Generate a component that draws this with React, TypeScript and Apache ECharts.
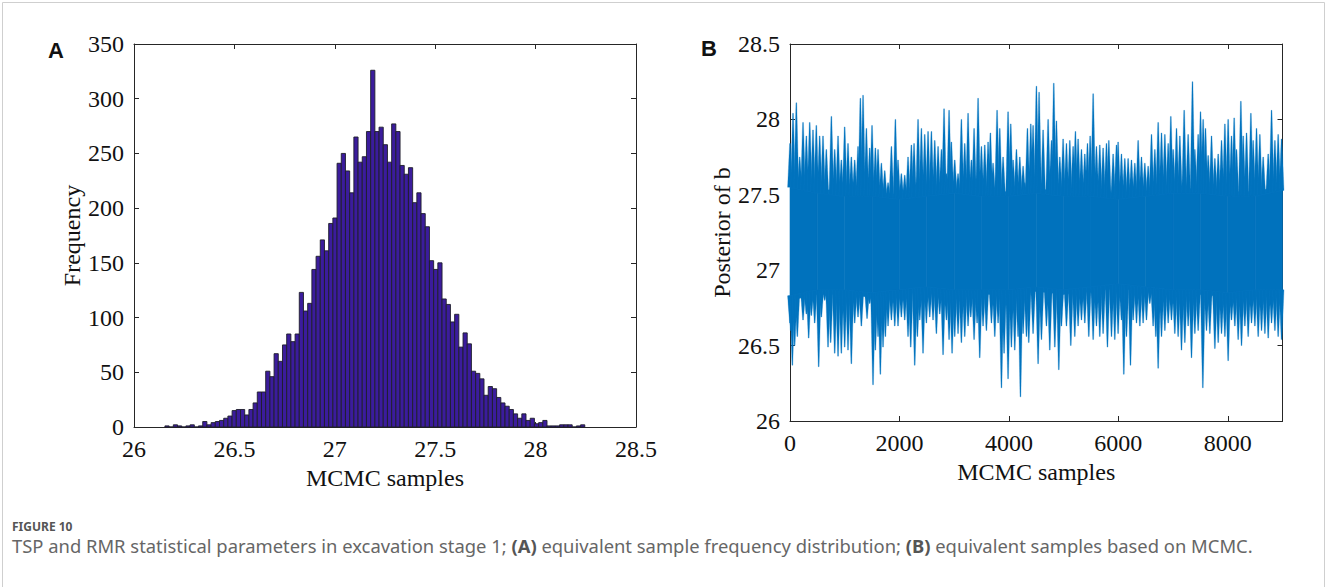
import React, { useEffect, useRef } from "react";
import * as echarts from "echarts";

// ---------- Panel A: histogram of MCMC samples ----------
const histStart = 26.154;
const histBinWidth = 0.02091;
const histCounts = [
  1, 0, 2, 1, 0, 1, 2, 0, 1, 5,
  2, 4, 5, 6, 8, 10, 15, 16, 16, 11,
  16, 22, 32, 32, 51, 46, 67, 60, 75, 85,
  78, 85, 123, 106, 113, 144, 156, 171, 161, 186,
  191, 241, 250, 234, 214, 265, 242, 247, 270, 326,
  270, 274, 258, 242, 277, 270, 239, 231, 237, 205,
  214, 195, 183, 152, 144, 150, 117, 112, 96, 103,
  73, 86, 76, 51, 49, 44, 29, 37, 35, 27,
  22, 19, 16, 12, 8, 12, 6, 8, 3, 4,
  6, 1, 1, 1, 2, 2, 2, 0, 1, 2,
];
const histXTicks = { min: 26, max: 28.5, interval: 0.5 };
const histYTicks = { min: 0, max: 350, interval: 50 };

// ---------- Panel B: trace of MCMC samples ----------
// dense core of the trace (where the line fills every pixel)
const coreIdx = [0, 500, 1000, 1500, 2000, 2500, 3000, 3500, 4000, 4500, 5000, 5500, 6000, 6500, 7000, 7500, 8000, 8500, 9000];
const coreHi = [27.58, 27.54, 27.52, 27.52, 27.5, 27.52, 27.54, 27.52, 27.52, 27.54, 27.52, 27.52, 27.5, 27.52, 27.54, 27.54, 27.52, 27.52, 27.56];
const coreLo = [26.8, 26.84, 26.84, 26.82, 26.84, 26.86, 26.84, 26.84, 26.84, 26.86, 26.84, 26.86, 26.88, 26.86, 26.84, 26.84, 26.82, 26.84, 26.84];

// upper excursions of the trace (sample index, value)
const upperIdx = [0, 55, 116, 177, 238, 299, 360, 420, 481, 542, 603, 664, 756, 817, 878, 938, 999, 1060, 1121, 1182, 1243, 1286, 1335, 1396, 1456, 1499, 1560, 1609, 1670, 1731, 1792, 1853, 1926, 1974, 2035, 2096, 2157, 2218, 2267, 2340, 2401, 2462, 2523, 2584, 2645, 2706, 2767, 2815, 2858, 2907, 2949, 3010, 3071, 3132, 3193, 3254, 3315, 3364, 3437, 3498, 3559, 3620, 3662, 3711, 3784, 3833, 3894, 3985, 4034, 4077, 4138, 4199, 4260, 4290, 4339, 4400, 4442, 4503, 4552, 4625, 4717, 4778, 4820, 4869, 4930, 4991, 5052, 5113, 5174, 5216, 5265, 5326, 5387, 5436, 5485, 5540, 5600, 5661, 5722, 5783, 5826, 5905, 5966, 5996, 6057, 6118, 6179, 6240, 6301, 6362, 6423, 6484, 6545, 6606, 6667, 6728, 6789, 6850, 6911, 6959, 7002, 7063, 7124, 7203, 7276, 7355, 7398, 7459, 7502, 7550, 7593, 7642, 7703, 7764, 7825, 7886, 7947, 8007, 8068, 8117, 8160, 8239, 8282, 8343, 8422, 8464, 8525, 8586, 8647, 8739, 8800, 8861, 8921, 8983];
const upperVal = [27.84, 28.04, 28.11, 27.75, 27.98, 27.89, 27.98, 27.93, 27.96, 27.89, 27.89, 27.8, 28.02, 27.8, 27.89, 27.73, 27.95, 27.84, 27.75, 27.73, 27.82, 28.14, 28.16, 27.94, 27.81, 27.96, 27.81, 27.8, 27.71, 27.66, 27.58, 27.82, 28.0, 27.73, 27.64, 27.63, 27.75, 27.83, 27.84, 28.0, 27.94, 27.9, 27.92, 27.92, 27.86, 27.82, 27.8, 28.07, 27.64, 28.06, 27.85, 27.73, 27.64, 28.0, 27.84, 28.04, 27.73, 27.94, 28.14, 27.82, 27.83, 27.85, 27.91, 27.71, 28.06, 27.94, 27.75, 28.05, 27.97, 27.73, 27.8, 27.75, 27.69, 27.58, 27.94, 27.97, 27.96, 28.22, 28.18, 27.93, 28.0, 27.86, 28.24, 27.99, 27.75, 27.87, 27.84, 27.86, 27.82, 27.92, 27.87, 27.8, 27.77, 27.84, 27.89, 28.17, 27.82, 27.83, 27.81, 27.84, 27.86, 27.77, 27.83, 27.85, 27.77, 27.74, 27.74, 27.73, 27.71, 27.86, 27.75, 27.71, 27.69, 27.9, 27.8, 27.98, 27.91, 27.9, 27.84, 28.02, 27.8, 27.94, 27.89, 28.06, 27.9, 28.25, 27.8, 27.9, 28.05, 28.0, 27.94, 27.76, 27.89, 27.74, 27.77, 27.86, 27.97, 28.0, 27.89, 28.01, 27.8, 28.12, 27.89, 27.91, 28.04, 27.86, 27.94, 27.9, 27.75, 27.77, 28.06, 27.86, 27.9, 27.87];

// lower excursions of the trace (sample index, value)
const lowerIdx = [0, 12, 43, 85, 134, 195, 238, 299, 341, 390, 451, 524, 573, 634, 695, 743, 817, 878, 938, 999, 1060, 1121, 1182, 1243, 1304, 1353, 1408, 1456, 1517, 1560, 1609, 1651, 1700, 1743, 1792, 1853, 1914, 1974, 2035, 2096, 2157, 2206, 2279, 2328, 2371, 2431, 2492, 2553, 2614, 2675, 2736, 2797, 2858, 2907, 2962, 3010, 3071, 3132, 3193, 3254, 3303, 3364, 3419, 3467, 3528, 3589, 3681, 3742, 3803, 3864, 3912, 3985, 4046, 4107, 4168, 4211, 4260, 4321, 4363, 4442, 4534, 4595, 4686, 4747, 4839, 4912, 4960, 5052, 5131, 5204, 5265, 5326, 5387, 5460, 5540, 5600, 5661, 5722, 5801, 5875, 5935, 5996, 6057, 6100, 6149, 6222, 6271, 6332, 6393, 6453, 6514, 6575, 6636, 6685, 6728, 6789, 6850, 6911, 6971, 7032, 7093, 7154, 7215, 7276, 7337, 7398, 7459, 7544, 7611, 7672, 7764, 7825, 7886, 7947, 8007, 8068, 8129, 8190, 8251, 8312, 8373, 8434, 8495, 8556, 8617, 8678, 8739, 8800, 8861, 8921, 8983];
const lowerVal = [26.65, 26.6, 26.37, 26.5, 26.56, 26.85, 26.67, 26.71, 26.55, 26.7, 26.65, 26.36, 26.69, 26.8, 26.49, 26.52, 26.45, 26.43, 26.45, 26.49, 26.47, 26.38, 26.65, 26.69, 26.63, 26.85, 26.68, 26.78, 26.24, 26.47, 26.56, 26.31, 26.49, 26.56, 26.63, 26.67, 26.63, 26.63, 26.69, 26.67, 26.56, 26.49, 26.37, 26.56, 26.67, 26.45, 26.65, 26.69, 26.67, 26.58, 26.71, 26.44, 26.67, 26.54, 26.45, 26.56, 26.58, 26.52, 26.56, 26.63, 26.69, 26.54, 26.65, 26.42, 26.63, 26.6, 26.65, 26.56, 26.65, 26.22, 26.45, 26.28, 26.49, 26.47, 26.56, 26.16, 26.58, 26.56, 26.52, 26.58, 26.38, 26.54, 26.63, 26.47, 26.49, 26.34, 26.63, 26.63, 26.5, 26.56, 26.63, 26.67, 26.65, 26.56, 26.54, 26.63, 26.56, 26.58, 26.49, 26.56, 26.54, 26.58, 26.67, 26.31, 26.56, 26.37, 26.67, 26.65, 26.63, 26.65, 26.67, 26.78, 26.63, 26.56, 26.35, 26.56, 26.6, 26.65, 26.67, 26.58, 26.56, 26.47, 26.52, 26.63, 26.42, 26.58, 26.6, 26.22, 26.6, 26.58, 26.48, 26.52, 26.58, 26.56, 26.4, 26.67, 26.63, 26.54, 26.5, 26.63, 26.56, 26.65, 26.63, 26.56, 26.6, 26.58, 26.55, 26.65, 26.6, 26.56, 26.54];

const traceXTicks = { min: 0, max: 9000, interval: 2000 };
const traceYTicks = { min: 26, max: 28.5, interval: 0.5 };

const captionTitle = "FIGURE 10";
const captionParts = [
  "TSP and RMR statistical parameters in excavation stage 1; ",
  "(A)",
  " equivalent sample frequency distribution; ",
  "(B)",
  " equivalent samples based on MCMC.",
];

const AXIS_COLOR = "#262626";
const SERIF = "'Liberation Serif', 'Times New Roman', serif";
const SANS = "'Noto Sans', sans-serif";
const TRACE_BLUE = "#0072BD";

function axisBase(extra: any) {
  return {
    axisLine: { show: true, onZero: false, lineStyle: { color: AXIS_COLOR, width: 1 } },
    axisTick: { show: true, inside: true, length: 5, lineStyle: { color: AXIS_COLOR, width: 1 } },
    splitLine: { show: false },
    axisLabel: { color: "#111", fontFamily: SERIF, fontSize: 24, margin: 10, showMaxLabel: false, formatter: (v: number) => String(v) },
    nameTextStyle: { color: "#111", fontFamily: SERIF, fontSize: 24 },
    ...extra,
  };
}
function mirrorAxis(extra: any) {
  return axisBase({ ...extra, axisLabel: { show: false } });
}
function withLabels(extra: any, showMax: boolean) {
  const a = axisBase(extra);
  a.axisLabel = { ...a.axisLabel, showMaxLabel: showMax };
  return a;
}

function bandAt(idx: number, arr: number[]) {
  for (let i = 0; i < coreIdx.length - 1; i++) {
    if (idx <= coreIdx[i + 1]) {
      const t = (idx - coreIdx[i]) / (coreIdx[i + 1] - coreIdx[i]);
      return arr[i] + (arr[i + 1] - arr[i]) * t;
    }
  }
  return arr[arr.length - 1];
}

export default function App() {
  const ref = useRef<HTMLDivElement>(null);
  useEffect(() => {
    if (!ref.current) return;
    const chart = echarts.init(ref.current, null, { renderer: "svg" });

    const histData = histCounts.map((c, i) => [
      histStart + i * histBinWidth,
      histStart + (i + 1) * histBinWidth,
      c,
    ]);
    const bandData = coreIdx.slice(0, -1).map((x, i) => [
      x, coreIdx[i + 1], coreLo[i], coreLo[i + 1], coreHi[i], coreHi[i + 1],
    ]);
    const spikes = [
      ...upperIdx.map((x, i) => [x, upperVal[i], 1]),
      ...lowerIdx.map((x, i) => [x, lowerVal[i], -1]),
    ];

    const option: any = {
      animation: false,
      backgroundColor: "#fff",
      grid: [
        { left: 134, top: 44, width: 502, height: 383 },
        { left: 790, top: 44, width: 492.5, height: 377 },
      ],
      xAxis: [
        withLabels({ gridIndex: 0, type: "value", ...histXTicks, name: "MCMC samples", nameLocation: "middle", nameGap: 39 }, true),
        mirrorAxis({ gridIndex: 0, type: "value", position: "top", ...histXTicks }),
        withLabels({ gridIndex: 1, type: "value", ...traceXTicks, name: "MCMC samples", nameLocation: "middle", nameGap: 38 }, false),
        mirrorAxis({ gridIndex: 1, type: "value", position: "top", ...traceXTicks }),
      ],
      yAxis: [
        withLabels({ gridIndex: 0, type: "value", ...histYTicks, name: "Frequency", nameLocation: "middle", nameGap: 50 }, true),
        mirrorAxis({ gridIndex: 0, type: "value", position: "right", ...histYTicks }),
        withLabels({ gridIndex: 1, type: "value", ...traceYTicks, name: "Posterior of b", nameLocation: "middle", nameGap: 56 }, true),
        mirrorAxis({ gridIndex: 1, type: "value", position: "right", ...traceYTicks }),
      ],
      series: [
        {
          type: "custom",
          xAxisIndex: 0,
          yAxisIndex: 0,
          data: histData,
          encode: { x: [0, 1], y: 2 },
          renderItem: (params: any, api: any) => {
            const p0 = api.coord([api.value(0), api.value(2)]);
            const p1 = api.coord([api.value(1), 0]);
            return {
              type: "rect",
              shape: { x: p0[0], y: p0[1], width: p1[0] - p0[0], height: p1[1] - p0[1] },
              style: { fill: "#3b1c9c", stroke: "#1e1e2a", lineWidth: 0.9 },
            };
          },
        },
        {
          type: "custom",
          xAxisIndex: 2,
          yAxisIndex: 2,
          data: bandData,
          encode: { x: [0, 1], y: [2, 3, 4, 5] },
          renderItem: (params: any, api: any) => {
            const a = api.coord([api.value(0), api.value(2)]);
            const b = api.coord([api.value(1), api.value(3)]);
            const c = api.coord([api.value(1), api.value(5)]);
            const d = api.coord([api.value(0), api.value(4)]);
            return {
              type: "polygon",
              shape: { points: [a, b, c, d] },
              style: { fill: TRACE_BLUE, stroke: TRACE_BLUE, lineWidth: 0.6 },
            };
          },
        },
        {
          type: "custom",
          xAxisIndex: 2,
          yAxisIndex: 2,
          data: spikes,
          encode: { x: 0, y: 1 },
          renderItem: (params: any, api: any) => {
            const idx = api.value(0);
            const dir = api.value(2);
            const p = api.coord([idx, api.value(1)]);
            const baseVal = dir > 0 ? bandAt(idx, coreHi) - 0.03 : bandAt(idx, coreLo) + 0.03;
            const base = api.coord([idx, baseVal]);
            const w = 2.4;
            return {
              type: "polygon",
              shape: { points: [[p[0] - w, base[1]], [p[0] - 0.4, p[1]], [p[0] + 0.4, p[1]], [p[0] + w, base[1]]] },
              style: { fill: TRACE_BLUE, stroke: "#0a7cc4", lineWidth: 0.3 },
            };
          },
        },
      ],
      graphic: [
        {
          type: "rect",
          shape: { x: 2.5, y: 2.5, width: 1322, height: 700 },
          style: { fill: "none", stroke: "#cfcfcf", lineWidth: 1 },
          silent: true,
        },
        {
          type: "text",
          left: 48,
          top: 39,
          style: { text: "A", fontFamily: "'Liberation Sans', Arial, sans-serif", fontWeight: "bold", fontSize: 22, fill: "#111" },
        },
        {
          type: "text",
          left: 701,
          top: 37,
          style: { text: "B", fontFamily: "'Liberation Sans', Arial, sans-serif", fontWeight: "bold", fontSize: 22, fill: "#111" },
        },
        {
          type: "text",
          left: 12,
          top: 519,
          style: { text: captionTitle, fontFamily: SANS, fontWeight: "bold", fontSize: 12, lineHeight: 14, fill: "#555" },
        },
        {
          type: "text",
          left: 12,
          top: 535,
          style: {
            text:
              captionParts[0] + "{b|" + captionParts[1] + "}" + captionParts[2] + "{b|" + captionParts[3] + "}" + captionParts[4],
            fontFamily: SANS,
            fontSize: 18.4,
            lineHeight: 20,
            fill: "#666",
            rich: { b: { fontFamily: SANS, fontSize: 18.4, lineHeight: 20, fontWeight: "bold", fill: "#555" } },
          },
        },
      ],
    };
    chart.setOption(option);
    return () => chart.dispose();
  }, []);

  return (
    <div
      ref={ref}
      style={{ position: "fixed", left: 0, top: 0, width: 1327, height: 587, background: "#fff" }}
    />
  );
}
